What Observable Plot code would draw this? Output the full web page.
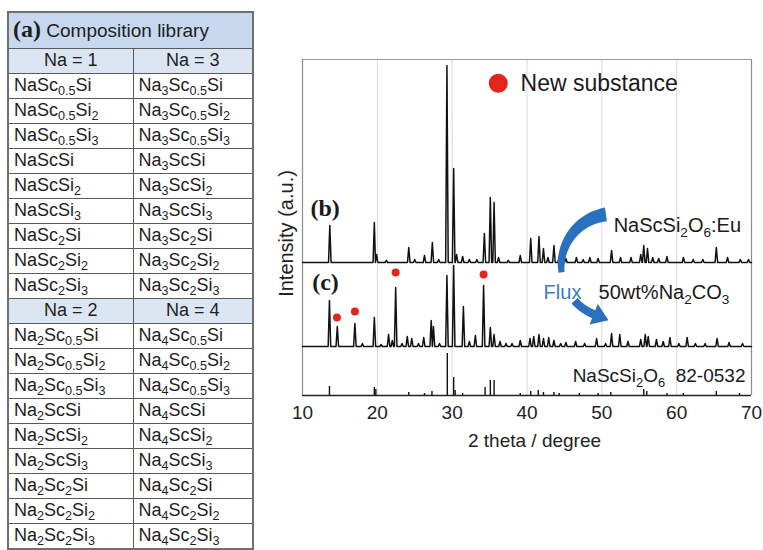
<!DOCTYPE html>
<html><head><meta charset="utf-8">
<script src="https://cdn.jsdelivr.net/npm/d3@7"></script>
<script src="https://cdn.jsdelivr.net/npm/@observablehq/plot@0.6"></script>
<style>
body{margin:0;background:#fff;width:763px;height:550px;overflow:hidden;position:relative;font-family:"Liberation Sans",Arial,sans-serif;}
#lib{position:absolute;left:7px;top:11px;border-collapse:collapse;width:245px;table-layout:fixed;border:2px solid #6f6f6f;color:#1e1e1e;font-size:18px;}
#lib td{border:1px solid #5a5a5a;padding:0 0 2px 5px;height:22px;line-height:20px;white-space:nowrap;overflow:hidden;}
#lib tr.h0 td{background:#c7d8ee;height:33px;font-size:19px;padding-left:4px;}
#lib tr.h1 td{background:#dbe6f2;text-align:center;padding:0 0 2px 0;}
#lib sub{font-size:0.7em;vertical-align:-0.3em;line-height:0}
.a{font-family:"Liberation Serif","Times New Roman",serif;font-weight:bold;font-size:24px;}
#chart{position:absolute;left:260px;top:0;}
</style></head>
<body>
<table id="lib"><colgroup><col style="width:125px"><col style="width:120px"></colgroup><tbody></tbody></table>
<div id="chart"></div>
<script>
// ---------- table data ----------
const tableTitle = "Composition library";
const groupHeadsTop = ["Na = 1", "Na = 3"];
const groupHeadsBottom = ["Na = 2", "Na = 4"];
const colNa1 = ["NaSc_0.5Si","NaSc_0.5Si_2","NaSc_0.5Si_3","NaScSi","NaScSi_2","NaScSi_3","NaSc_2Si","NaSc_2Si_2","NaSc_2Si_3"];
const colNa3 = ["Na_3Sc_0.5Si","Na_3Sc_0.5Si_2","Na_3Sc_0.5Si_3","Na_3ScSi","Na_3ScSi_2","Na_3ScSi_3","Na_3Sc_2Si","Na_3Sc_2Si_2","Na_3Sc_2Si_3"];
const colNa2 = ["Na_2Sc_0.5Si","Na_2Sc_0.5Si_2","Na_2Sc_0.5Si_3","Na_2ScSi","Na_2ScSi_2","Na_2ScSi_3","Na_2Sc_2Si","Na_2Sc_2Si_2","Na_2Sc_2Si_3"];
const colNa4 = ["Na_4Sc_0.5Si","Na_4Sc_0.5Si_2","Na_4Sc_0.5Si_3","Na_4ScSi","Na_4ScSi_2","Na_4ScSi_3","Na_4Sc_2Si","Na_4Sc_2Si_2","Na_4Sc_2Si_3"];

// ---------- chart data ----------
const xTicks = [10,20,30,40,50,60,70];
const gridX = [20,30,40,50,60];
const baseB = 133, baseC = 49;
const peaksB = [[13.65,37],[19.6,40],[19.9,8],[21.2,2],[24.2,15],[25.0,3],[26.3,7],[27.35,20],[28.2,3],[29.3,197],[30.2,94],[30.6,8],[31.4,6],[32.3,3],[33.3,3],[34.3,29],[35.1,65],[35.6,60],[36.2,5],[37.5,2],[39.1,7],[40.5,24],[41.6,26],[42.2,14],[42.8,5],[43.6,17],[44.3,6],[45.2,4],[46.6,5],[47.5,3],[48.4,5],[49.5,4],[51.3,12],[52.5,5],[53.9,5],[55.2,8],[55.6,17],[56.1,14],[56.8,5],[57.6,4],[58.7,6],[60.9,5],[62.2,3],[63.5,3],[65.3,15],[66.8,5],[68.5,3],[69.6,3]];
const peaksC = [[13.6,46],[14.65,20],[17.0,23],[18.0,3],[19.6,29],[20.5,2],[21.5,12],[22.0,6],[22.45,59],[23.3,3],[24.0,10],[24.6,8],[25.5,3],[26.2,9],[27.2,26],[27.5,20],[28.3,3],[29.3,71],[30.2,81],[31.5,40],[32.3,5],[33.1,11],[34.2,61],[35.1,19],[35.6,12],[36.4,5],[37.2,3],[38.0,3],[39.1,6],[40.4,8],[40.9,10],[41.6,12],[42.2,8],[42.9,9],[43.6,6],[44.5,3],[45.2,4],[46.5,5],[47.7,3],[49.3,8],[50.5,3],[51.3,13],[52.4,12],[53.5,5],[55.2,7],[55.8,12],[56.2,10],[57.3,7],[58.2,5],[59.1,9],[60.3,3],[61.4,9],[62.5,3],[63.8,3],[65.4,8],[67.0,4],[68.8,3]];
const refPeaks = [[13.6,9],[19.6,8],[19.8,6],[24.2,3],[26.3,2],[27.3,4],[29.35,42],[30.2,18],[30.4,5],[31.4,2],[34.4,8],[35.1,15],[35.6,15],[39.1,2],[40.5,4],[41.5,5],[42.2,3],[43.6,3],[44.3,2],[47.0,2],[49.5,2],[51.2,3],[55.6,6],[56.0,4],[58.7,2],[60.9,2],[65.3,4],[68.4,2]];
const newDots = [[14.6,78],[17.0,84],[22.45,123],[34.2,121]];
const legendDot = [36.16,312.3];
const legendText = "New substance";
const labelsBC = [["(b)",11.07,187],["(c)",11.3,113]];
const annoBlack = [["NaScSi_2O_6:Eu",51.58,170,20],["50wt%Na_2CO_3",49.57,103,20],["NaScSi_2O_6\u00a0\u00a082-0532",46.1,20,19]];
const fluxText = ["Flux",42.22,103];
const arrowCenter = [51.58,129];
const xLabel = "2 theta / degree";
const yLabel = "Intensity (a.u.)";

// ---------- table ----------
function sub(s){ return s.replace(/_([0-9.]+)/g,"<sub>$1</sub>"); }
const tb = document.querySelector("#lib tbody");
let html = `<tr class="h0"><td colspan="2"><span class="a">(a)</span> ${tableTitle}</td></tr>`;
html += `<tr class="h1"><td>${groupHeadsTop[0]}</td><td>${groupHeadsTop[1]}</td></tr>`;
colNa1.forEach((d,i)=>{ html += `<tr><td>${sub(d)}</td><td>${sub(colNa3[i])}</td></tr>`; });
html += `<tr class="h1"><td>${groupHeadsBottom[0]}</td><td>${groupHeadsBottom[1]}</td></tr>`;
colNa2.forEach((d,i)=>{ html += `<tr><td>${sub(d)}</td><td>${sub(colNa4[i])}</td></tr>`; });
tb.innerHTML = html;

// ---------- chart ----------
function buildPattern(peaks, base){
  const s = peaks.slice().sort((a,b)=>a[0]-b[0]);
  const pts=[{x:10,y:base}];
  s.forEach(([p,h],i)=>{
    const prev = i>0 ? s[i-1][0] : 10, next = i<s.length-1 ? s[i+1][0] : 70;
    const wl = Math.min(0.17,(p-prev)/2), wr = Math.min(0.17,(next-p)/2);
    pts.push({x:p-wl,y:base},{x:p,y:base+h},{x:p+wr,y:base});
  });
  pts.push({x:70,y:base});
  return pts;
}
const W=503,H=460,ML=42,MR=12,MT=59,MB=65;
const chart = Plot.plot({
  width:W,height:H,marginLeft:ML,marginRight:MR,marginTop:MT,marginBottom:MB,
  x:{domain:[10,70],axis:null},
  y:{domain:[0,336],axis:null},
  style:{fontFamily:"Liberation Sans, Arial, sans-serif",color:"#222",background:"transparent",overflow:"visible"},
  marks:[
    Plot.ruleX(gridX,{stroke:"#d8d8d8",strokeWidth:1}),
    Plot.ruleY([336],{stroke:"#9a9a9a",strokeWidth:1.2}),
    Plot.ruleX([10,70],{stroke:"#8c8c8c",strokeWidth:1.2}),
    Plot.ruleY([0],{stroke:"#222",strokeWidth:1.4}),
    Plot.ruleX(refPeaks,{x:d=>d[0],y1:0,y2:d=>d[1],stroke:"#111",strokeWidth:1.4}),
    Plot.line(buildPattern(peaksB,baseB),{x:"x",y:"y",stroke:"#111",strokeWidth:1.5}),
    Plot.line(buildPattern(peaksC,baseC),{x:"x",y:"y",stroke:"#111",strokeWidth:1.5}),
    Plot.dot(newDots,{x:d=>d[0],y:d=>d[1],r:4,fill:"#e3261c",stroke:null}),
    Plot.dot([legendDot],{x:d=>d[0],y:d=>d[1],r:9.5,fill:"#e3261c",stroke:null}),
    Plot.text([legendText],{x:legendDot[0]+2.98,y:legendDot[1],text:d=>d,textAnchor:"start",fontSize:23,fill:"#1a1a1a"}),
    Plot.text(labelsBC,{x:d=>d[1],y:d=>d[2],text:d=>d[0],textAnchor:"start",fontSize:24,fontWeight:"bold",fontFamily:"Liberation Serif, Times New Roman, serif",fill:"#1a1a1a"}),
    Plot.text(annoBlack,{x:d=>d[1],y:d=>d[2],text:d=>d[0],textAnchor:"start",fontSize:d=>d[3],fill:"#1a1a1a"}),
    Plot.text([fluxText],{x:d=>d[1],y:d=>d[2],text:d=>d[0],textAnchor:"start",fontSize:20,fill:"#3a7cc8"}),
    Plot.text(xTicks,{x:d=>d,text:d=>String(d),frameAnchor:"bottom",lineAnchor:"middle",dy:17,fontSize:19,fill:"#222"}),
    Plot.text([xLabel],{x:41,text:d=>d,frameAnchor:"bottom",lineAnchor:"middle",dy:45,fontSize:19,fill:"#222"}),
    Plot.text([yLabel],{y:162,text:d=>d,frameAnchor:"left",textAnchor:"middle",lineAnchor:"middle",dx:-16,rotate:-90,fontSize:20,fill:"#222"})
  ]
});
document.getElementById("chart").appendChild(chart);

// subscripts in svg text
chart.querySelectorAll("text").forEach(t=>{
  const s=t.textContent;
  if(!s.includes("_")) return;
  const fs=parseFloat(getComputedStyle(t).fontSize)||19;
  const sh=fs*0.26;
  t.textContent="";
  let shifted=false;
  s.split(/(_[0-9.]+)/).forEach(p=>{
    if(!p) return;
    const ts=document.createElementNS("http://www.w3.org/2000/svg","tspan");
    if(p[0]==="_"){ts.textContent=p.slice(1);ts.setAttribute("font-size",fs*0.68);if(!shifted){ts.setAttribute("dy",sh);shifted=true;}}
    else{ts.textContent=p;if(shifted){ts.setAttribute("dy",-sh);shifted=false;}}
    t.appendChild(ts);
  });
});

// curved "Flux" arrow annotation
const xs = chart.scale("x"), ys = chart.scale("y");
const X = v => xs && xs.apply ? xs.apply(v) : ML+(v-10)/60*(W-ML-MR);
const Y = v => ys && ys.apply ? ys.apply(v) : H-MB-(v/336)*(H-MT-MB);
const cx=X(arrowCenter[0]), cy=Y(arrowCenter[1]), R=52;
function band(t0,t1,w0,w1,n=40){
  const o=[],inn=[];
  for(let i=0;i<=n;i++){const f=i/n,t=(t0+(t1-t0)*f)*Math.PI/180,w=w0+(w1-w0)*f;
    o.push([cx+(R+w/2)*Math.cos(t),cy+(R+w/2)*Math.sin(t)]);
    inn.push([cx+(R-w/2)*Math.cos(t),cy+(R-w/2)*Math.sin(t)]);}
  return "M"+o.map(p=>p.map(v=>v.toFixed(2)).join(",")).join("L")+"L"+inn.reverse().map(p=>p.map(v=>v.toFixed(2)).join(",")).join("L")+"Z";
}
const tEnd=-248*Math.PI/180;
const P=[cx+R*Math.cos(tEnd),cy+R*Math.sin(tEnd)];
const tg=[Math.sin(tEnd),-Math.cos(tEnd)], nm=[Math.cos(tEnd),Math.sin(tEnd)];
const head=`M${P[0]+nm[0]*11},${P[1]+nm[1]*11}L${P[0]+tg[0]*16},${P[1]+tg[1]*16}L${P[0]-nm[0]*11},${P[1]-nm[1]*11}Z`;
const g=document.createElementNS("http://www.w3.org/2000/svg","g");
g.setAttribute("fill","#2b70bf");
[band(-98,-187,14,6),band(-222,-249,8,8.5),head].forEach(d=>{
  const p=document.createElementNS("http://www.w3.org/2000/svg","path");p.setAttribute("d",d);g.appendChild(p);});
chart.appendChild(g);
</script>
</body></html>
